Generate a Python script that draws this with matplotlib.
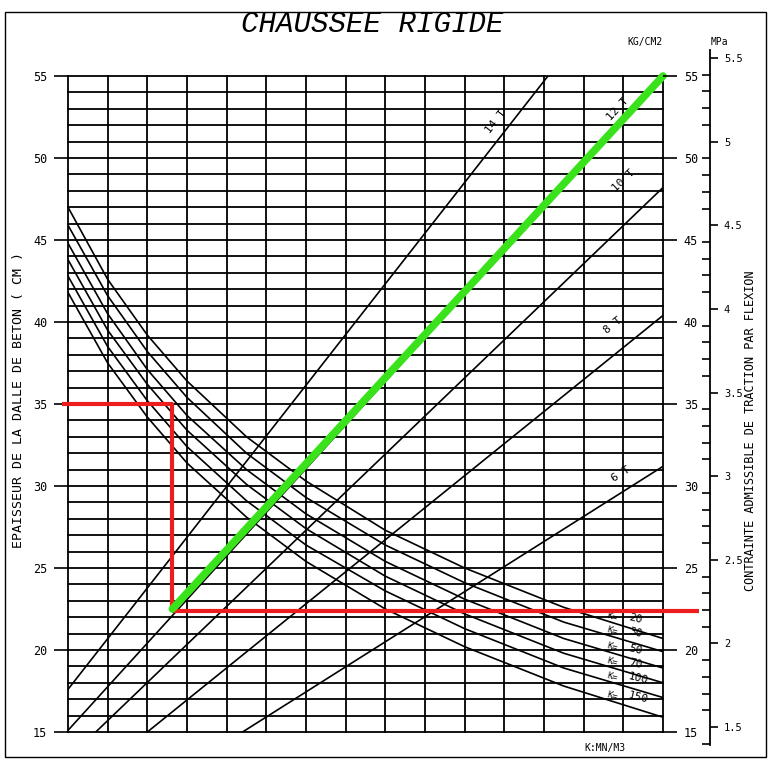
import matplotlib
matplotlib.use("Agg")
import matplotlib.pyplot as plt
import numpy as np
from matplotlib.patches import Rectangle
from matplotlib.ticker import MultipleLocator, FuncFormatter

# ---------------- data ----------------
thickness_ticks = [15, 20, 25, 30, 35, 40, 45, 50, 55]      # cm / kg/cm2
grid_columns = list(range(16))
grid_rows = list(range(15, 56))

# subgrade reaction curves K (MN/m3): slab thickness along the chart width
k_labels = ["20", "30", "50", "70", "100", "150"]
k_u = [0, 1, 2, 3, 4.5, 6, 8, 10, 12.5, 15]
k_20 = [47.0, 42.6, 39.2, 36.4, 33.0, 30.3, 27.3, 25.0, 22.6, 20.7]
k_30 = [45.9, 41.6, 38.2, 35.4, 32.0, 29.3, 26.4, 24.1, 21.7, 19.9]
k_50 = [44.8, 40.5, 37.1, 34.3, 31.0, 28.3, 25.4, 23.1, 20.7, 18.9]
k_70 = [43.8, 39.5, 36.2, 33.4, 30.1, 27.4, 24.5, 22.2, 19.8, 18.0]
k_100 = [42.8, 38.5, 35.2, 32.4, 29.1, 26.4, 23.6, 21.3, 18.9, 17.1]
k_150 = [41.8, 37.5, 34.2, 31.4, 28.1, 25.4, 22.5, 20.2, 17.8, 15.9]
k_curves = [k_20, k_30, k_50, k_70, k_100, k_150]

# load lines
load_labels = ["14 T", "12 T", "10 T", "8 T", "6 T"]
load_start_u = [0.0, 0.0, 0.7, 2.0, 4.4]
load_start_v = [17.6, 15.1, 15.0, 15.0, 15.0]
load_end_u = [12.1, 15.0, 15.0, 15.0, 15.0]
load_end_v = [55.0, 55.0, 48.2, 40.4, 31.2]

# worked example
example_thickness = 35.0
example_u = 2.63
example_corner = 22.5
example_stress = 22.4
example_end_u = 15.0
example_end_v = 55.0

mpa_major = [1.5, 2.0, 2.5, 3.0, 3.5, 4.0, 4.5, 5.0, 5.5]
KG_PER_MPA = 10.2

# ---------------- layout ----------------
W, H = 770, 760
fig = plt.figure(figsize=(W / 100, H / 100), dpi=100)
fig.patch.set_facecolor("white")
MONO = "DejaVu Sans Mono"

GL, GR, GT, GB = 68, 663, 76, 732       # grid box in pixels
ax = fig.add_axes([GL / W, (H - GB) / H, (GR - GL) / W, (GB - GT) / H])
ax.set_xlim(0, 15)
ax.set_ylim(15, 55)
for s in ax.spines.values():
    s.set_visible(False)

for u in grid_columns:
    ax.axvline(u, color="black", lw=1.3, clip_on=False, zorder=1)
for v in grid_rows:
    ax.axhline(v, color="black", lw=1.3, clip_on=False, zorder=1)

ax.set_xticks([])
ax.set_yticks(thickness_ticks)
ax.tick_params(axis="y", length=10, width=1.2, pad=5, labelsize=8.5)
for t in ax.get_yticklabels():
    t.set_fontfamily(MONO)

axr = ax.twinx()
axr.set_ylim(15, 55)
for s in axr.spines.values():
    s.set_visible(False)
axr.set_yticks(thickness_ticks)
axr.tick_params(axis="y", length=10, width=1.2, pad=5, labelsize=8.5)
for t in axr.get_yticklabels():
    t.set_fontfamily(MONO)

# K curves
for vals, lab in zip(k_curves, k_labels):
    ax.plot(k_u, vals, color="black", lw=1.2, zorder=2)
    yv = np.interp(13.9, k_u, vals)
    ax.text(13.55, yv + 0.15, "K=", fontsize=6.5, family=MONO, rotation=-14,
            ha="left", va="bottom", zorder=3)
    ax.text(14.1, yv - 0.05, lab, fontsize=8, family=MONO, rotation=-14,
            ha="left", va="bottom", zorder=3)

# load lines
fig.canvas.draw()
label_pos = [(10.8, 52.2), (13.85, 53.0), (14.0, 48.6), (13.75, 39.8), (13.95, 30.7)]
for su, sv, eu, ev, lab, (lu, lv) in zip(load_start_u, load_start_v, load_end_u,
                                          load_end_v, load_labels, label_pos):
    ax.plot([su, eu], [sv, ev], color="black", lw=1.2, zorder=2)
    p0 = ax.transData.transform((su, sv))
    p1 = ax.transData.transform((eu, ev))
    ang = np.degrees(np.arctan2(p1[1] - p0[1], p1[0] - p0[0]))
    ax.text(lu, lv, lab, fontsize=8, family=MONO, rotation=ang,
            ha="center", va="center", zorder=3)

# worked example path
ax.plot([-0.15, example_u, example_u], [example_thickness, example_thickness, example_corner],
        color="#ee1d1d", lw=3.0, clip_on=False, zorder=5, solid_capstyle="butt")
ax.plot([example_u, 15.9], [example_stress, example_stress],
        color="#ee1d1d", lw=3.0, clip_on=False, zorder=5, solid_capstyle="butt")
ax.plot([example_u, example_end_u], [example_corner, example_end_v],
        color="#3ae21c", lw=5.5, clip_on=False, zorder=6, solid_capstyle="round")

# outer MPa scale
ppu = (GB - GT) / 40.0
def px_to_mpa(yp):
    return (15 + (GB - yp) / ppu) / KG_PER_MPA
MT, MB, MX = 50, 745, 710
axm = fig.add_axes([(MX - 1) / W, (H - MB) / H, 1 / W, (MB - MT) / H])
axm.set_ylim(px_to_mpa(MB), px_to_mpa(MT))
axm.set_xticks([])
for k in ["left", "top", "bottom"]:
    axm.spines[k].set_visible(False)
axm.spines["right"].set_linewidth(1.3)
axm.yaxis.tick_right()
axm.set_yticks(mpa_major)
axm.yaxis.set_minor_locator(MultipleLocator(0.1))
axm.yaxis.set_major_formatter(FuncFormatter(lambda v, p: f"{v:g}"))
axm.tick_params(axis="y", which="major", direction="out", length=6, width=1.2,
                pad=4, labelsize=7.5)
axm.tick_params(axis="y", which="minor", direction="in", length=6, width=1.2)
for t in axm.get_yticklabels():
    t.set_fontfamily(MONO)

# texts
fig.text(372 / W, 1 - 24 / H, "CHAUSSEE RIGIDE", fontsize=21, family="Liberation Mono",
         style="italic", ha="center", va="center")
fig.text(645 / W, 1 - 42 / H, "KG/CM2", fontsize=7, family=MONO, ha="center", va="center")
fig.text(719 / W, 1 - 42 / H, "MPa", fontsize=7, family=MONO, ha="center", va="center")
fig.text(605 / W, 1 - 748 / H, "K:MN/M3", fontsize=7, family=MONO, ha="center", va="center")
fig.text(19 / W, 1 - 400 / H, "EPAISSEUR DE LA DALLE DE BETON ( CM )", fontsize=9.5,
         family=MONO, rotation=90, ha="center", va="center")
fig.text(751 / W, 1 - 431 / H, "CONTRAINTE ADMISSIBLE DE TRACTION PAR FLEXION",
         fontsize=8.6, family=MONO, rotation=90, ha="center", va="center")

# page frame
fig.patches.append(Rectangle((5 / W, 1 - 757 / H), 761 / W, 745 / H,
                             transform=fig.transFigure, fill=False,
                             edgecolor="black", lw=1.0))

fig.savefig("out.png", dpi=100)
